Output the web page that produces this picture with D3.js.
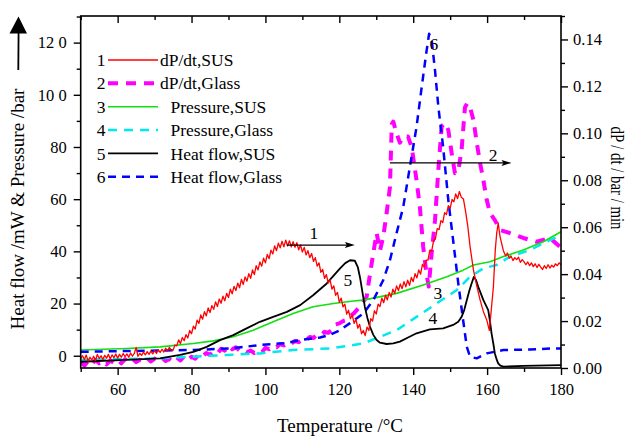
<!DOCTYPE html>
<html>
<head>
<meta charset="utf-8">
<script src="https://cdn.jsdelivr.net/npm/d3@7"></script>
<style>
  html, body { margin: 0; padding: 0; background: #fff; }
  svg { display: block; }
  text { font-family: "Liberation Serif", "Times New Roman", serif; fill: #000; }
</style>
</head>
<body>
<svg id="chart" width="628" height="437"></svg>
<script>
// ---- data: temperature (°C) vs. value ----
// dP/dt, SUS (bar/min, right axis)
const dpdtSUS = [
  [50,0.0040],[50.5,0.0052],[51,0.0036],[51.5,0.0055],[52,0.0030],[52.5,0.0046],[53,0.0034],[53.5,0.0050],
  [54,0.0032],[54.5,0.0058],[55,0.0040],[55.5,0.0052],[56,0.0036],[56.5,0.0054],[57,0.0042],[57.5,0.0058],
  [58,0.0038],[58.5,0.0056],[59,0.0044],[59.5,0.0060],[60,0.0042],[60.5,0.0058],[61,0.0046],[61.5,0.0062],
  [62,0.0048],[62.5,0.0060],[63,0.0046],[63.5,0.0064],[64,0.0050],[64.5,0.0062],[65,0.0088],[65.5,0.0050],
  [66,0.0062],[66.5,0.0054],[67,0.0068],[67.5,0.0056],[68,0.0070],[68.5,0.0058],[69,0.0072],[69.5,0.0060],
  [70,0.0074],[70.5,0.0062],[71,0.0078],[71.5,0.0066],[72,0.0080],[72.5,0.0068],[73,0.0084],[73.5,0.0072],
  [74,0.0088],[74.5,0.0076],[75,0.0075],[75.5,0.0098],[76,0.0094],[76.5,0.0120],[77,0.0104],[77.5,0.0130],
  [78,0.0116],[78.5,0.0142],[79,0.0128],[79.5,0.0160],[80,0.0146],[80.5,0.0178],[81,0.0166],[81.5,0.0204],
  [82,0.0190],[82.5,0.0226],[83,0.0208],[83.5,0.0240],[84,0.0222],[84.5,0.0256],[85,0.0236],[85.5,0.0266],
  [86,0.0250],[86.5,0.0282],[87,0.0262],[87.5,0.0294],[88,0.0276],[88.5,0.0306],[89,0.0286],[89.5,0.0318],
  [90,0.0300],[90.5,0.0336],[91,0.0316],[91.5,0.0348],[92,0.0330],[92.5,0.0362],[93,0.0342],[93.5,0.0378],
  [94,0.0356],[94.5,0.0388],[95,0.0370],[95.5,0.0402],[96,0.0382],[96.5,0.0418],[97,0.0398],[97.5,0.0436],
  [98,0.0418],[98.5,0.0452],[99,0.0434],[99.5,0.0468],[100,0.0448],[100.5,0.0484],[101,0.0466],[101.5,0.0502],
  [102,0.0486],[102.5,0.0520],[103,0.0500],[103.5,0.0532],[104,0.0512],[104.5,0.0540],[105,0.0516],[105.5,0.0545],
  [106,0.0520],[106.5,0.0542],[107,0.0516],[107.5,0.0538],[108,0.0514],[108.5,0.0534],[109,0.0504],[109.5,0.0524],
  [110,0.0494],[110.5,0.0514],[111,0.0482],[111.5,0.0500],[112,0.0470],[112.5,0.0488],[113,0.0454],[113.5,0.0470],
  [114,0.0434],[114.5,0.0448],[115,0.0408],[115.5,0.0420],[116,0.0382],[116.5,0.0398],[117,0.0362],[117.5,0.0376],
  [118,0.0336],[118.5,0.0350],[119,0.0310],[119.5,0.0322],[120,0.0280],[120.5,0.0298],[121,0.0260],[121.5,0.0272],
  [122,0.0230],[122.5,0.0246],[123,0.0210],[123.5,0.0226],[124,0.0190],[124.5,0.0208],[125,0.0170],[125.5,0.0186],
  [126,0.0146],[126.5,0.0160],[127,0.0138],[127.5,0.0174],[128,0.0160],[128.5,0.0210],[129,0.0200],[129.5,0.0244],
  [130,0.0230],[130.5,0.0272],[131,0.0262],[131.5,0.0298],[132,0.0278],[132.5,0.0310],[133,0.0290],[133.5,0.0322],
  [134,0.0302],[134.5,0.0336],[135,0.0318],[135.5,0.0350],[136,0.0330],[136.5,0.0358],[137,0.0338],[137.5,0.0368],
  [138,0.0346],[138.5,0.0374],[139,0.0352],[139.5,0.0386],[140,0.0368],[140.5,0.0402],[141,0.0384],[141.5,0.0418],
  [142,0.0400],[142.5,0.0442],[143,0.0430],[143.5,0.0460],[144,0.0460],[144.5,0.0502],[145,0.0498],[145.5,0.0542],
  [146,0.0550],[146.5,0.0594],[147,0.0590],[147.5,0.0628],[148,0.0620],[148.5,0.0662],[149,0.0654],[149.5,0.0692],
  [150,0.0680],[150.5,0.0718],[151,0.0708],[151.5,0.0742],[152,0.0722],[152.5,0.0752],[153,0.0728],[153.6,0.0720],
  [154.2,0.0665],[154.8,0.0600],[155.4,0.0516],[156.3,0.0418],[157.2,0.0350],[158.1,0.0290],[159,0.0240],[159.9,0.0205],
  [160.6,0.0160],[161.2,0.0260],[161.7,0.0345],[162.2,0.0500],[162.6,0.0575],[163,0.0618],[163.5,0.0560],[164.4,0.0500],
  [165,0.0478],[165.5,0.0490],[166,0.0468],[166.5,0.0476],[167,0.0458],[167.5,0.0470],[168,0.0462],[168.5,0.0472],
  [169,0.0450],[169.5,0.0462],[170,0.0452],[170.5,0.0440],[171,0.0452],[171.5,0.0436],[172,0.0448],[172.5,0.0432],
  [173,0.0444],[173.5,0.0428],[174,0.0442],[174.5,0.0430],[175,0.0420],[175.5,0.0436],[176,0.0424],[176.5,0.0440],
  [177,0.0426],[177.5,0.0438],[178,0.0430],[178.5,0.0444],[179,0.0436],[179.5,0.0448],[180,0.0440]
];
// dP/dt, Glass (bar/min, right axis)
const dpdtGlass = [
  [50,0.0025],[51,0.0010],[52,0.0030],[53,0.0015],[54,0.0035],[55,0.0020],[56,0.0030],[57,0.0015],
  [58,0.0032],[59,0.0022],[60,0.0035],[61,0.0020],[62,0.0038],[63,0.0028],[64,0.0040],[65,0.0025],
  [66,0.0035],[67,0.0030],[68,0.0042],[69,0.0028],[70,0.0040],[71,0.0035],[72,0.0045],[73,0.0030],
  [74,0.0038],[75,0.0028],[76,0.0045],[77,0.0032],[78,0.0050],[79,0.0035],[80,0.0048],[81,0.0040],
  [82,0.0058],[83,0.0050],[84,0.0064],[85,0.0056],[86,0.0070],[87,0.0062],[88,0.0082],[89,0.0074],
  [90,0.0094],[91,0.0080],[92,0.0088],[93,0.0074],[94,0.0080],[95,0.0068],[96,0.0074],[97,0.0064],
  [98,0.0072],[99,0.0066],[100,0.0086],[101,0.0080],[102,0.0093],[103,0.0088],[104,0.0102],[105,0.0096],
  [106,0.0109],[107,0.0104],[108,0.0115],[109,0.0110],[110,0.0121],[111,0.0118],[112,0.0132],[113,0.0128],
  [114,0.0142],[115,0.0140],[116,0.0154],[117,0.0150],[118,0.0162],[119,0.0186],[120,0.0190],[121,0.0200],
  [122,0.0205],[123,0.0222],[124,0.0234],[125,0.0252],[126,0.0270],[127.4,0.0304],[128.3,0.0400],[129.2,0.0490],
  [130.1,0.0575],[131,0.0500],[131.9,0.0560],[132.8,0.0660],[133.7,0.0770],[134.2,0.1040],[134.6,0.1050],[135.5,0.1000],
  [136.4,0.0960],[137.3,0.0986],[138.6,0.0986],[139.6,0.0940],[140.9,0.0800],[141.8,0.0687],[142.7,0.0517],[143.6,0.0400],
  [144.2,0.0347],[145,0.0490],[145.9,0.0630],[146.8,0.0844],[147.7,0.1030],[148.6,0.1044],[149.5,0.1014],[150.4,0.0916],
  [151.3,0.0830],[152.2,0.0840],[153.1,0.0930],[154,0.1110],[154.6,0.1128],[155.4,0.1110],[156.3,0.1057],[157.2,0.0960],
  [158.1,0.0873],[159,0.0800],[159.9,0.0716],[160.8,0.0660],[162.1,0.0630],[163.5,0.0588],[166.2,0.0575],[169.8,0.0554],
  [173.4,0.0538],[177,0.0554],[179.7,0.0517]
];
// Pressure, SUS (bar, left axis)
const pressSUS = [
  [50,2.2],[62.4,2.8],[71.5,3.4],[80.5,4.7],[85.9,5.7],[91.3,7.3],[96.7,9.8],[102.1,13.0],[107.5,16.2],
  [112.9,18.8],[118.4,20.0],[123.8,21.0],[126.5,21.3],[135.5,23.9],[142.7,27.1],[149.1,30.3],[153.5,32.8],
  [156.3,34.8],[160.8,36.0],[164.4,38.0],[169.8,40.5],[175.2,43.7],[180,47.5]
];
// Pressure, Glass (bar, left axis)
const pressGlass = [
  [50,-1.6],[71.5,-1.0],[89.5,0.3],[98.5,0.9],[107.5,2.2],[117.5,2.8],[126.5,4.7],[135.5,9.8],[140.9,14.9],
  [146.3,20.0],[151.8,25.2],[155.4,30.3],[159,33.5],[162.6,34.8],[166.2,38.0],[171.6,40.5],[177,44.3],[180,46.2]
];
// Heat flow, SUS (mW, left axis)
const heatSUS = [
  [50,-2.3],[62.4,-1.6],[71.5,-1.0],[76.9,0.3],[80.5,1.5],[84.1,3.4],[87.7,6.0],[91.3,7.9],[94.9,10.5],
  [98.5,13.0],[102.1,14.9],[105.8,16.8],[109.4,19.4],[112.9,23.2],[116.6,27.7],[120.2,33.5],[121.6,35.5],
  [122.9,36.6],[124.2,36.4],[125,34.0],[125.6,30.0],[126.3,24.0],[126.9,18.8],[127.6,14.5],[128.3,11.1],
  [129.2,8.0],[130.1,6.0],[131,5.0],[132.8,4.5],[134.6,4.7],[136.4,5.4],[138.6,7.0],[140.9,8.6],[144.5,10.1],
  [148.1,10.5],[150.8,11.8],[152.2,13.0],[153.1,14.9],[153.8,17.5],[154.5,21.3],[155.2,25.0],[155.8,27.7],
  [156.4,30.2],[157,29.0],[157.6,26.4],[159,21.3],[160.3,17.5],[160.8,13.0],[161.2,8.6],[161.7,4.5],
  [162.1,0.9],[162.6,-1.5],[163,-2.9],[163.6,-3.8],[164.4,-4.2],[169.8,-3.9],[180,-3.6]
];
// Heat flow, Glass (mW, left axis)
const heatGlass = [
  [50,1.5],[62.4,1.8],[71.5,2.0],[80.5,2.2],[91.3,2.9],[98.5,4.1],[105.8,4.9],[109.4,6.0],[114.8,7.0],
  [117.5,8.0],[120.2,9.8],[122.9,12.5],[126.5,16.2],[129.2,21.3],[131.9,29.0],[133.7,36.6],[135.5,47.0],
  [137.3,57.0],[139.1,72.4],[140.9,87.7],[142.3,103.0],[143.5,115.7],[144.3,123.4],[145,120.9],[145.9,109.4],
  [146.8,95.4],[148.1,80.0],[149.5,59.6],[150.8,44.3],[152.2,27.7],[153.5,13.7],[154.5,3.4],[155.4,-0.4],
  [157.2,-1.0],[159.9,0.9],[164.4,2.2],[171.6,2.4],[177.9,2.8],[180,2.8]
];

// ---- tick labels ----
const xTicks = [60, 80, 100, 120, 140, 160, 180];
const xTickLabels = ["60", "80", "100", "120", "140", "160", "180"];
const leftTicks = [0, 20, 40, 60, 80, 100, 120];
const leftTickLabels = ["0", "20", "40", "60", "80", "10 0", "12 0"];
const rightTicks = [0, 0.02, 0.04, 0.06, 0.08, 0.10, 0.12, 0.14];
const rightTickLabels = ["0.00", "0.02", "0.04", "0.06", "0.08", "0.10", "0.12", "0.14"];

// ---- legend entries ----
const legendNums = ["1", "2", "3", "4", "5", "6"];
const legendNames = ["dP/dt,SUS", "dP/dt,Glass", "Pressure,SUS", "Pressure,Glass", "Heat flow,SUS", "Heat flow,Glass"];

// ---- series definitions ----
const series = [
  { id: 2, data: dpdtGlass, axis: "R", color: "#ff00ff", width: 4,   dash: "10,8" },
  { id: 4, data: pressGlass, axis: "L", color: "#00e8f0", width: 2.5, dash: "9,7" },
  { id: 3, data: pressSUS,  axis: "L", color: "#11e011", width: 1.6, dash: null },
  { id: 6, data: heatGlass, axis: "L", color: "#0000ff", width: 2.5, dash: "8,6" },
  { id: 5, data: heatSUS,   axis: "L", color: "#000000", width: 1.8, dash: null },
  { id: 1, data: dpdtSUS,   axis: "R", color: "#ff0000", width: 1.3, dash: null }
];

const svg = d3.select("#chart");
const plot = { left: 80.7, right: 561, top: 16, bottom: 368 };

const x = d3.scaleLinear().domain([50, 180]).range([plot.left, plot.right]);
const yL = d3.scaleLinear().domain([-4.7, 130.2]).range([plot.bottom, plot.top]);
const yR = d3.scaleLinear().domain([0, 0.15]).range([plot.bottom, plot.top]);

svg.append("defs").append("clipPath").attr("id", "clip")
  .append("rect")
  .attr("x", plot.left).attr("y", plot.top)
  .attr("width", plot.right - plot.left).attr("height", plot.bottom - plot.top);

// ---- curves ----
const curves = svg.append("g").attr("clip-path", "url(#clip)");
series.forEach(s => {
  const yS = s.axis === "L" ? yL : yR;
  const line = d3.line().x(d => x(d[0])).y(d => yS(d[1]));
  curves.append("path")
    .datum(s.data)
    .attr("d", line)
    .attr("fill", "none")
    .attr("stroke", s.color)
    .attr("stroke-width", s.width)
    .attr("stroke-linejoin", "round")
    .attr("stroke-dasharray", s.dash);
});

// ---- axes ----
const fontTick = 16.5;
function styleAxis(g) {
  g.select(".domain").remove();
  g.selectAll(".tick line").attr("stroke", "#000").attr("stroke-width", 1.4);
  g.selectAll(".tick text").attr("font-size", fontTick).attr("font-family", "Liberation Serif, Times New Roman, serif");
}

// bottom
svg.append("g").attr("transform", `translate(0,${plot.bottom})`)
  .call(d3.axisBottom(x).tickValues(xTicks).tickSize(7).tickPadding(8)
    .tickFormat((d, i) => xTickLabels[i]))
  .call(styleAxis);
svg.append("g").attr("transform", `translate(0,${plot.bottom})`)
  .call(d3.axisBottom(x).tickValues(d3.range(50, 181, 20)).tickSize(4).tickFormat(""))
  .call(styleAxis);
// top (inward ticks)
svg.append("g").attr("transform", `translate(0,${plot.top})`)
  .call(d3.axisBottom(x).tickValues(xTicks).tickSize(7).tickFormat(""))
  .call(styleAxis);
svg.append("g").attr("transform", `translate(0,${plot.top})`)
  .call(d3.axisBottom(x).tickValues(d3.range(50, 181, 20)).tickSize(4).tickFormat(""))
  .call(styleAxis);
// left
svg.append("g").attr("transform", `translate(${plot.left},0)`)
  .call(d3.axisLeft(yL).tickValues(leftTicks).tickSize(7).tickPadding(7)
    .tickFormat((d, i) => leftTickLabels[i]))
  .call(styleAxis);
svg.append("g").attr("transform", `translate(${plot.left},0)`)
  .call(d3.axisLeft(yL).tickValues(d3.range(10, 131, 20)).tickSize(4).tickFormat(""))
  .call(styleAxis);
// right
svg.append("g").attr("transform", `translate(${plot.right},0)`)
  .call(d3.axisRight(yR).tickValues(rightTicks).tickSize(7).tickPadding(5)
    .tickFormat((d, i) => rightTickLabels[i]))
  .call(styleAxis);
svg.append("g").attr("transform", `translate(${plot.right},0)`)
  .call(d3.axisRight(yR).tickValues(d3.range(0.01, 0.151, 0.02)).tickSize(4).tickFormat(""))
  .call(styleAxis);

// frame
svg.append("rect")
  .attr("x", plot.left).attr("y", plot.top)
  .attr("width", plot.right - plot.left).attr("height", plot.bottom - plot.top)
  .attr("fill", "none").attr("stroke", "#000").attr("stroke-width", 1.6);

// ---- axis titles ----
svg.append("text")
  .attr("x", 340).attr("y", 432)
  .attr("text-anchor", "middle").attr("font-size", 19)
  .text("Temperature /°C");
svg.append("text")
  .attr("transform", "translate(24,209) rotate(-90)")
  .attr("text-anchor", "middle").attr("font-size", 19)
  .text("Heat flow /mW & Pressure /bar");
svg.append("text")
  .attr("transform", "translate(611,178) rotate(90)")
  .attr("text-anchor", "middle").attr("font-size", 18)
  .attr("textLength", 103).attr("lengthAdjust", "spacingAndGlyphs")
  .text("dP / dt / bar / min");

// upward arrow beside the left title
const upArrow = svg.append("g");
upArrow.append("line").attr("x1", 18.3).attr("y1", 70).attr("x2", 18.6).attr("y2", 30)
  .attr("stroke", "#000").attr("stroke-width", 1.8);
upArrow.append("path").attr("d", "M18.5,16.5 L9.5,33.5 L27,33.5 Z").attr("fill", "#000");

// ---- legend ----
const legend = svg.append("g");
const legendOrder = [1, 2, 3, 4, 5, 6];
legendOrder.forEach((id, i) => {
  const s = series.find(d => d.id === id);
  const ly = 60 + i * 23.35;
  legend.append("text").attr("x", 105.5).attr("y", ly).attr("dy", "0.35em")
    .attr("text-anchor", "end").attr("font-size", 17.5).text(legendNums[i]);
  legend.append("line").attr("x1", 108).attr("x2", 158).attr("y1", ly).attr("y2", ly)
    .attr("stroke", s.color).attr("stroke-width", s.width)
    .attr("stroke-dasharray", s.dash);
  legend.append("text").attr("x", i < 2 ? 160 : 170.5).attr("y", ly).attr("dy", "0.35em")
    .attr("font-size", 17.5).text(legendNames[i]);
});

// ---- curve labels and axis-direction arrows (left-axis data units) ----
const curveLabels = [
  { t: "1", T: 113.1, v: 47.0 },
  { t: "5", T: 122.3, v: 29.0 },
  { t: "6", T: 145.6, v: 119.7 },
  { t: "2", T: 161.6, v: 76.8 },
  { t: "3", T: 146.7, v: 24.0 },
  { t: "4", T: 145.3, v: 14.4 }
];
curveLabels.forEach(l => {
  svg.append("text").attr("x", x(l.T)).attr("y", yL(l.v)).attr("dy", "0.35em")
    .attr("text-anchor", "middle").attr("font-size", 17.5).text(l.t);
});
const axisArrows = [
  { T0: 105.8, T1: 124.2, v: 42.4 },
  { T0: 133.7, T1: 166.6, v: 73.9 }
];
axisArrows.forEach(a => {
  const x0 = x(a.T0), x1 = x(a.T1), yy = yL(a.v);
  svg.append("line").attr("x1", x0).attr("x2", x1 - 6).attr("y1", yy).attr("y2", yy)
    .attr("stroke", "#000").attr("stroke-width", 1.2);
  svg.append("path").attr("d", `M${x1},${yy} L${x1 - 10},${yy - 3} L${x1 - 8},${yy} L${x1 - 10},${yy + 3} Z`)
    .attr("fill", "#000");
});
</script>
</body>
</html>
